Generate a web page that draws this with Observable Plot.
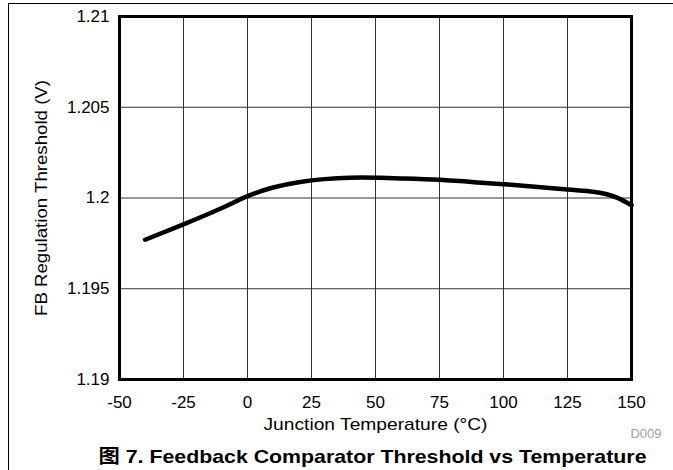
<!DOCTYPE html>
<html>
<head>
<meta charset="utf-8">
<script src="https://cdn.jsdelivr.net/npm/d3@7"></script>
<script src="https://cdn.jsdelivr.net/npm/@observablehq/plot@0.6"></script>
<style>
  html, body { margin: 0; padding: 0; background: #fff; overflow: hidden; width: 673px; height: 470px; }
  #border { position: absolute; left: 7.5px; top: 3px; width: 700px; height: 500px; border-top: 1.5px solid #000; border-left: 1.5px solid #000; }
  #chart { position: absolute; left: 0; top: 0; }
</style>
</head>
<body>
<div id="border"></div>
<div id="chart"></div>
<script>
const temps = [-40, -25, -10, 0, 10, 20, 30, 40, 50, 60, 75, 90, 100, 110, 125, 135, 140, 145, 150];
const thresholds = [1.1977, 1.19855, 1.19945, 1.2001, 1.20058, 1.20087, 1.20104, 1.20112, 1.20112, 1.20108, 1.201, 1.20086, 1.20076, 1.20065, 1.20047, 1.20035, 1.20022, 1.19998, 1.1996];

const xTicks = [-50, -25, 0, 25, 50, 75, 100, 125, 150];
const xTickLabels = ["-50", "-25", "0", "25", "50", "75", "100", "125", "150"];
const yTicks = [1.19, 1.195, 1.2, 1.205, 1.21];
const yTickLabels = ["1.19", "1.195", "1.2", "1.205", "1.21"];

const xLabel = "Junction Temperature (°C)";
const yLabel = "FB Regulation Threshold (V)";
const figId = "D009";
const title = "图 7. Feedback Comparator Threshold vs Temperature";

const data = temps.map((t, i) => ({t, v: thresholds[i]}));
const xMap = new Map(xTicks.map((d, i) => [d, xTickLabels[i]]));
const yMap = new Map(yTicks.map((d, i) => [d, yTickLabels[i]]));

const chart = Plot.plot({
  width: 673,
  height: 470,
  marginLeft: 119,
  marginRight: 42,
  marginTop: 16,
  marginBottom: 91,
  style: {
    fontFamily: "'Liberation Sans', Arial, 'Noto Sans CJK SC', sans-serif",
    fontSize: "17px",
    color: "#000",
    background: "transparent"
  },
  x: {domain: [-50, 150], ticks: xTicks, tickFormat: d => xMap.get(d), tickSize: 0, tickPadding: 16, label: null},
  y: {domain: [1.19, 1.21], ticks: yTicks, tickFormat: d => yMap.get(d), tickSize: 0, tickPadding: 10, label: null},
  marks: [
    Plot.ruleX(xTicks, {stroke: "#333", strokeWidth: 1}),
    Plot.ruleY(yTicks, {stroke: "#333", strokeWidth: 1}),
    Plot.line(data, {x: "t", y: "v", stroke: "#000", strokeWidth: 4.5, curve: "natural"}),
    Plot.frame({stroke: "#000", strokeWidth: 3}),
    Plot.text([xLabel], {frameAnchor: "bottom", textAnchor: "middle", dy: 50, lineAnchor: "bottom", fontSize: 17, fill: "#000"}),
    Plot.text([yLabel], {frameAnchor: "left", textAnchor: "middle", lineAnchor: "middle", rotate: -90, dx: -78, fontSize: 17, fill: "#000"}),
    Plot.text([figId], {frameAnchor: "bottom-right", textAnchor: "end", dx: 30, dy: 58, lineAnchor: "bottom", fontSize: 13, fill: "#a0a0a0"}),
    Plot.text([title], {frameAnchor: "bottom", textAnchor: "middle", dx: -3, dy: 83, lineAnchor: "bottom", fontSize: 19, fontWeight: "bold", fill: "#000"})
  ]
});
document.getElementById("chart").appendChild(chart);

const lengths = new Map([[xLabel, 224], [yLabel, 236], [title, 548]]);
d3.select(chart).selectAll("text").each(function () {
  const L = lengths.get(this.textContent);
  if (L) {
    this.setAttribute("textLength", L);
    this.setAttribute("lengthAdjust", "spacingAndGlyphs");
  }
});
</script>
</body>
</html>
